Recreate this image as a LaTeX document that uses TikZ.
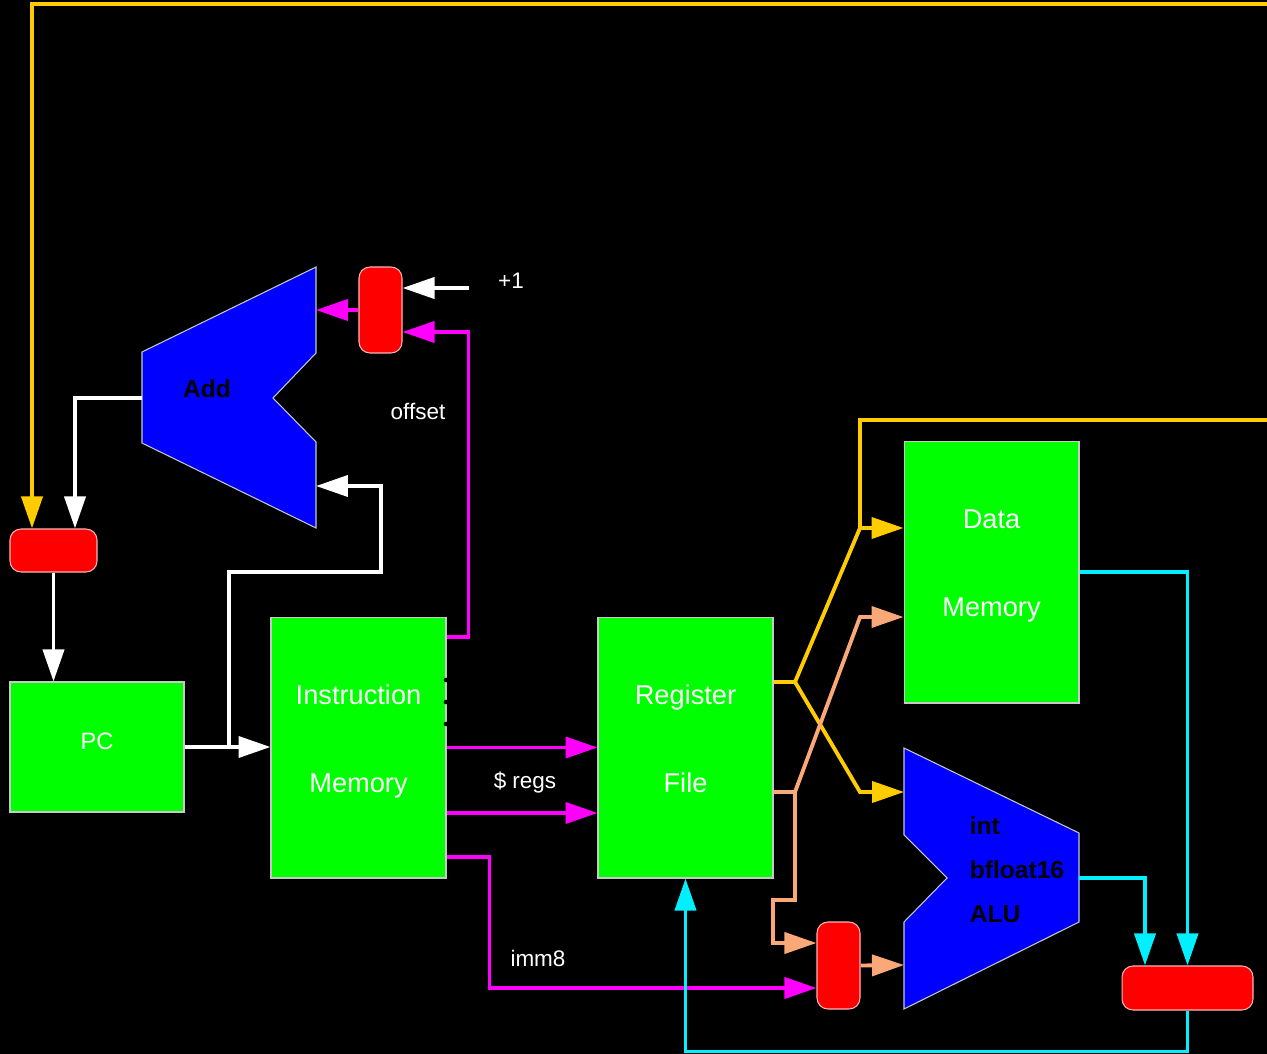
\documentclass[tikz,border=0pt]{standalone}
\usepackage{fontspec}
\setmainfont{Liberation Sans}
\usetikzlibrary{arrows.meta,calc}
\definecolor{unitc}{HTML}{00FF00}
\definecolor{addc}{HTML}{0000FF}
\definecolor{muxc}{HTML}{FF0000}
\definecolor{rim}{HTML}{C8C8C8}
\definecolor{muxrim}{HTML}{FFB4B4}
\definecolor{ctrl}{HTML}{FFCC00}
\definecolor{instr}{HTML}{FF00FF}
\definecolor{opnd}{HTML}{FAA878}
\definecolor{wb}{HTML}{00F0FF}

\begin{document}
\begin{tikzpicture}[
  x=0.02cm, y=-0.02cm,
  >={Triangle[length=0.64cm,width=0.42cm]},
  wire/.style={line width=2.2pt},
  unit/.style={rectangle,draw=rim,line width=0.6pt,fill=unitc,text=white,align=center,
               inner sep=0pt,text depth=9.7pt,font=\fontsize{15.5pt}{50pt}\selectfont},
  mux/.style={rectangle,rounded corners=0.22cm,draw=muxrim,line width=0.6pt,fill=muxc,inner sep=0pt},
  alushape/.style={fill=addc,draw=rim,line width=0.6pt},
  lbl/.style={text=white,inner sep=0pt,font=\fontsize{12.8pt}{15pt}\selectfont},
  blk/.style={text=black,inner sep=0pt,align=left,font=\bfseries\fontsize{14pt}{25pt}\selectfont},
]
\useasboundingbox (0,0) rectangle (1267,1054);
\fill[black] (0,0) rectangle (1267,1054);

%================================================================ FETCH ===
\node[unit,minimum width=3.48cm,minimum height=2.6cm,text depth=6.8pt,
      font=\fontsize{13.5pt}{15pt}\selectfont] (pc) at (97,747) {PC};
\node[unit,minimum width=3.5cm,minimum height=5.22cm] (im) at (358.5,747.5) {Instruction\\Memory};
\node[mux,minimum width=1.74cm,minimum height=0.86cm] (selpc) at (53.5,550.5) {};
\node[mux,minimum width=0.86cm,minimum height=1.72cm] (seloff) at (380.5,310) {};

% adder
\filldraw[alushape] (142,352) -- (316,267) -- (316,353) -- (273,398) -- (316,442)
  -- (316,528) -- (142,443) -- cycle;
\coordinate (addout) at (142,398);
\coordinate (adda) at (316,310);
\coordinate (addb) at (316,486);
\node[blk] (addlbl) at (207,389) {Add};

% unused pins on the memory edge
\foreach \y in {680,702,724}
  \fill[black] (446,\y) circle (1.3pt);

\coordinate (tap)  at (229,747);
\coordinate (bend) at (381,572);
\coordinate (inc)  at (469,288);
\coordinate (edgeT) at (1267,4);

\draw[wire,white,->] (selpc.south) -- (selpc.south |- pc.north);
\draw[wire,white,->] (pc.east) -- (pc.east -| im.west);
\draw[wire,white,->] (tap) |- (bend) |- (addb);
\draw[wire,white,->] (addout) -| ($(selpc.north)+(21.5,0)$);
\draw[wire,white,->] (inc) -- (inc -| seloff.east);
\draw[wire,instr,->] (seloff.west) -- (adda);
\draw[wire,instr,->] ($(im.east)+(0,-110.5)$) -- ++(22,0) |- ($(seloff.east)+(0,22)$);
\draw[wire,ctrl,->] (edgeT) -| ($(selpc.north)+(-21.5,0)$);

\node[lbl] (inclbl) at (511,281) {+1};
\node[lbl] (offlbl) at (418,411) {offset};

%============================================================== EXECUTE ===
\node[unit,minimum width=3.5cm,minimum height=5.22cm] (rf) at (685.5,747.5) {Register\\File};
\node[unit,minimum width=3.5cm,minimum height=5.24cm] (dm) at (991.5,572) {Data\\Memory};
\node[mux,minimum width=0.86cm,minimum height=1.74cm] (selb) at (838.5,965.5) {};
\node[mux,minimum width=2.62cm,minimum height=0.88cm] (selwb) at (1187.5,988) {};

% alu
\filldraw[alushape] (904,748) -- (1079,833) -- (1079,922) -- (904,1009) -- (904,922)
  -- (947,878) -- (904,835) -- cycle;
\coordinate (alua) at (904,792);
\coordinate (alub) at (904,965);
\coordinate (aluout) at (1079,878);
\node[blk] (alulbl) at (1017,870) {int\\bfloat16\\ALU};

\coordinate (imB) at ($(im.east)+(0,65.5)$);
\coordinate (rfA) at ($(rf.east)+(0,-65.5)$);
\coordinate (rfB) at ($(rf.east)+(0,44.5)$);
\coordinate (forkA) at (795,682);
\coordinate (forkB) at (795,792);
\coordinate (joinD) at (860,528);
\coordinate (edgeB) at (1267,420);

\draw[wire,instr,->] (im.east) -- (im.east -| rf.west);
\draw[wire,instr,->] (imB) -- (imB -| rf.west);
\draw[wire,instr,->] ($(im.east)+(0,109.5)$) -- ++(43,0) |- ($(selb.west)+(0,22.5)$);

\draw[wire,ctrl] (rfA) -- (forkA);
\draw[wire,ctrl,->] (forkA) -- (joinD) -- ($(dm.west)+(0,-44)$);
\draw[wire,ctrl,->] (forkA) -- (860,792) -- (alua);
\draw[wire,ctrl] (edgeB) -| (joinD);

\draw[wire,opnd] (rfB) -- (forkB);
\draw[wire,opnd,->] (forkB) -- (860,617) -- ($(dm.west)+(0,45)$);
\draw[wire,opnd,->] (forkB) -- (795,900) -- (773,900) |- ($(selb.west)+(0,-22.5)$);
\draw[wire,opnd,->] (selb.east) -- (alub);

%============================================================ WRITEBACK ===
\draw[wire,wb,->] (dm.east) -| (selwb.north);
\draw[wire,wb,->] (aluout) -| ($(selwb.north)+(-42.5,0)$);
\draw[wire,wb,->] (selwb.south) -- ++(0,41) -| (rf.south);

\node[lbl] (reglbl) at (525,783) {\$ regs};
\node[lbl] (immlbl) at (538,958) {imm8};

\end{tikzpicture}
\end{document}
